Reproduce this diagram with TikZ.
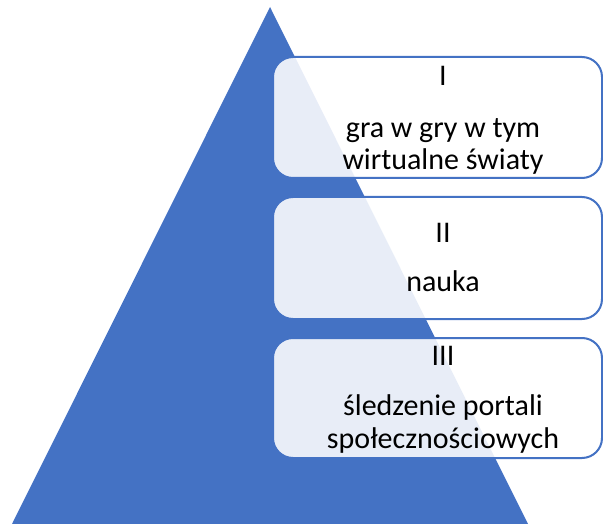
\documentclass[tikz,border=0pt]{standalone}
\usepackage{fontspec}
\setmainfont{Carlito}
\definecolor{triblue}{HTML}{4472C4}
\begin{document}
\begin{tikzpicture}[x=1pt,y=-1pt,
  tier/.style={draw=triblue,line width=2pt,fill=white,fill opacity=0.88,rounded corners=20pt},
  lbl/.style={anchor=base,inner sep=0pt,font=\fontsize{30}{36}\selectfont,text=black}]
\useasboundingbox (0,0) rectangle (603,524);
\fill[triblue] (270,7) -- (528,524) -- (12,524) -- cycle;
\draw[tier] (273,57) rectangle (602,178);
\draw[tier] (273,197) rectangle (602,319);
\draw[tier] (273,338) rectangle (602,458);
\node[lbl] (n1) at (443,86) {I};
\node[lbl] (t1a) at (443,138) {gra w gry w tym};
\node[lbl] (t1b) at (443,170) {wirtualne światy};
\node[lbl] (n2) at (443,243) {II};
\node[lbl] (t2) at (443,291) {nauka};
\node[lbl] (n3) at (443,365) {III};
\node[lbl] (t3a) at (443,415) {śledzenie portali};
\node[lbl] (t3b) at (443,448) {społecznościowych};
\end{tikzpicture}
\end{document}
